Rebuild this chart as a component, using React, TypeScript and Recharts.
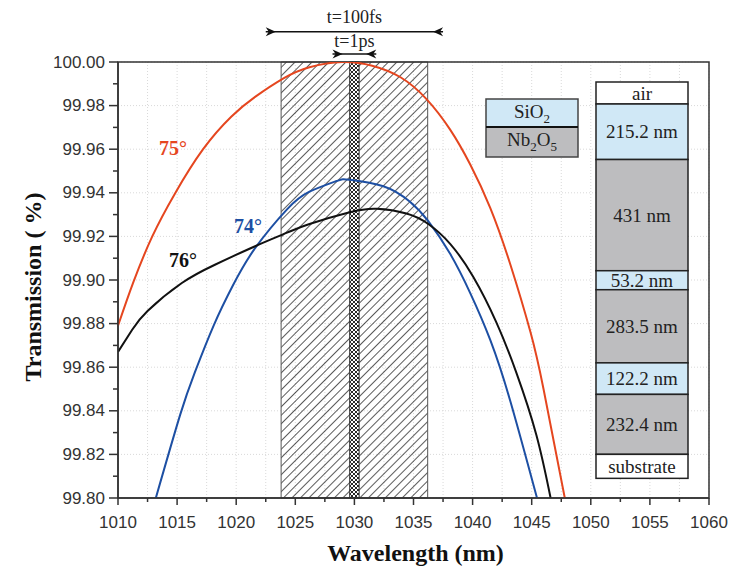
import React from 'react';
import {
  LineChart,
  Line,
  XAxis,
  YAxis,
  CartesianGrid,
  ReferenceArea,
  ReferenceLine,
  ReferenceDot,
} from 'recharts';

document.body.style.margin = '0';

// wavelength (nm) / transmission (%)
const wl75 = [1010, 1011.3, 1012.9, 1014.8, 1017.2, 1019.6, 1021.6, 1024.0, 1026.2, 1029.0, 1031.5, 1033.9, 1036.1, 1038.1, 1039.8, 1041.5, 1043.2, 1044.9, 1046.0, 1047.8];
const tr75 = [99.879, 99.899, 99.92, 99.9395, 99.96, 99.975, 99.984, 99.9925, 99.9976, 100.0, 99.9983, 99.993, 99.983, 99.969, 99.953, 99.933, 99.907, 99.876, 99.85, 99.8];

const wl74 = [1013.2, 1015.25, 1016.5, 1018.1, 1019.75, 1021.6, 1024.3, 1026.2, 1028.5, 1029.6, 1032.45, 1034.7, 1036.25, 1038.1, 1039.8, 1041.5, 1043.2, 1045.45];
const tr74 = [99.8, 99.838, 99.8576, 99.8792, 99.8978, 99.9146, 99.9324, 99.9405, 99.9454, 99.946, 99.943, 99.9359, 99.927, 99.912, 99.894, 99.8724, 99.8443, 99.8];

const wl76 = [1010, 1011.2, 1012.5, 1015.4, 1018.2, 1021.6, 1024.3, 1026.2, 1029.6, 1031.9, 1034.4, 1036.25, 1038.1, 1040.05, 1042.0, 1043.7, 1045.4, 1046.6];
const tr76 = [99.867, 99.8772, 99.8858, 99.8986, 99.907, 99.9155, 99.9217, 99.9257, 99.9311, 99.9327, 99.9305, 99.9257, 99.9166, 99.9015, 99.8807, 99.8575, 99.8288, 99.8];

const xTicks = [1010, 1012.5, 1015, 1017.5, 1020, 1022.5, 1025, 1027.5, 1030, 1032.5, 1035, 1037.5, 1040, 1042.5, 1045, 1047.5, 1050, 1052.5, 1055, 1057.5, 1060];
const yTicks = [99.8, 99.81, 99.82, 99.83, 99.84, 99.85, 99.86, 99.87, 99.88, 99.89, 99.9, 99.91, 99.92, 99.93, 99.94, 99.95, 99.96, 99.97, 99.98, 99.99, 100];
const yMajor = [99.8, 99.82, 99.84, 99.86, 99.88, 99.9, 99.92, 99.94, 99.96, 99.98, 100];

// pulse bandwidth windows and their arrows
const band100fs = [1023.8, 1036.2];
const band1ps = [1029.6, 1030.4];
const arrow100fs = [1022.5, 1037.5];
const arrow1ps = [1028.15, 1031.85];
const arrowLevels = [100.0139, 100.0037];

// curve labels: [text, wavelength, transmission, colour]
const curveLabels: [string, number, number, string][] = [
  ['75°', 1014.65, 99.9606, '#e5461f'],
  ['74°', 1021.0, 99.9247, '#1d4fa3'],
  ['76°', 1015.5, 99.909, '#111'],
];

// coating stack, top to bottom
const layers = [
  { label: '215.2 nm', material: 'SiO2', thickness: 215.2 },
  { label: '431 nm', material: 'Nb2O5', thickness: 431 },
  { label: '53.2 nm', material: 'SiO2', thickness: 53.2 },
  { label: '283.5 nm', material: 'Nb2O5', thickness: 283.5 },
  { label: '122.2 nm', material: 'SiO2', thickness: 122.2 },
  { label: '232.4 nm', material: 'Nb2O5', thickness: 232.4 },
];

const toPoints = (xs: number[], ys: number[]) => xs.map((x, i) => ({ x, y: ys[i] }));
const data75 = toPoints(wl75, tr75);
const data74 = toPoints(wl74, tr74);
const data76 = toPoints(wl76, tr76);

const SERIF = '"Liberation Serif", "Times New Roman", serif';
const SANS = '"Liberation Sans", Arial, sans-serif';
const BLUE_FILL = '#d0e8f6';
const GRAY_FILL = '#bdbdbf';

const Y_SIZE = 9;
const Y_MARGIN = 4;
const X_SIZE = 7;
const X_MARGIN = 4;

const YTick = (props: any) => {
  const { x, y, payload } = props;
  const axisX = x + Y_SIZE + Y_MARGIN;
  const major = Math.round(payload.value * 100) % 2 === 0;
  return (
    <g>
      <line x1={axisX - (major ? 9 : 5)} x2={axisX} y1={y} y2={y} stroke="#333" strokeWidth={1.5} />
      {major && (
        <text x={axisX - 13} y={y} textAnchor="end" dominantBaseline="central" fontFamily={SANS} fontSize={17} fill="#333">
          {payload.value.toFixed(2)}
        </text>
      )}
    </g>
  );
};

const XTick = (props: any) => {
  const { x, y, payload } = props;
  const axisY = y - X_SIZE - X_MARGIN;
  const major = payload.value % 5 === 0;
  return (
    <g>
      <line x1={x} x2={x} y1={axisY} y2={axisY + (major ? 7 : 4)} stroke="#333" strokeWidth={1.5} />
      {major && (
        <text x={x} y={axisY + 24} textAnchor="middle" dominantBaseline="central" fontFamily={SANS} fontSize={17} fill="#333">
          {payload.value}
        </text>
      )}
    </g>
  );
};

const arrowShape = (label: string, lift: number) => (p: any) => {
  const { x1, x2, y1 } = p;
  const y = y1;
  return (
    <g>
      <line x1={x1} x2={x2} y1={y} y2={y} stroke="#111" strokeWidth={1.6} />
      <path d={`M${x1},${y - 4.5} L${x1 + 10},${y} L${x1},${y + 4.5} L${x1 + 3},${y} Z`} fill="#111" />
      <path d={`M${x2},${y - 4.5} L${x2 - 10},${y} L${x2},${y + 4.5} L${x2 - 3},${y} Z`} fill="#111" />
      <text x={(x1 + x2) / 2} y={y - lift} textAnchor="middle" fontFamily={SERIF} fontSize={18} fill="#222">
        {label}
      </text>
    </g>
  );
};

const Formula = ({ name }: { name: string }) => {
  // digits become subscripts
  const parts = name.split(/(\d)/).filter(Boolean);
  return (
    <>
      {parts.map((s, i) =>
        /\d/.test(s) ? (
          <tspan key={i} dy={5} fontSize={13}>{s}</tspan>
        ) : (
          <tspan key={i} dy={i > 0 ? -5 : 0}>{s}</tspan>
        )
      )}
    </>
  );
};

const Insets = () => {
  const sx = 596;
  const sw = 92;
  let y = 82;
  const rows: { label: string; fill: string; h: number; y: number }[] = [];
  rows.push({ label: 'air', fill: '#fff', h: 22, y });
  y += 22;
  layers.forEach((l) => {
    const h = Math.max(19, l.thickness * 0.258);
    rows.push({ label: l.label, fill: l.material === 'SiO2' ? BLUE_FILL : GRAY_FILL, h, y });
    y += h;
  });
  rows.push({ label: 'substrate', fill: '#fff', h: 24, y });
  return (
    <svg width={729} height={571} style={{ position: 'absolute', left: 0, top: 0, pointerEvents: 'none' }}>
      <defs>
        <pattern id="hatch" width={6} height={6} patternUnits="userSpaceOnUse" patternTransform="rotate(45)">
          <line x1={0} y1={0} x2={0} y2={6} stroke="#000" strokeWidth={1.3} />
        </pattern>
        <pattern id="cross" width={4} height={4} patternUnits="userSpaceOnUse">
          <rect width={4} height={4} fill="#fff" />
          <path d="M0,4 L4,0 M0,0 L4,4" stroke="#111" strokeWidth={0.9} />
        </pattern>
      </defs>
      {/* legend box */}
      <rect x={486} y={99} width={92} height={28} fill={BLUE_FILL} />
      <rect x={486} y={127} width={92} height={30} fill={GRAY_FILL} />
      <rect x={486} y={99} width={92} height={58} fill="none" stroke="#444" strokeWidth={1.5} />
      <line x1={486} x2={578} y1={127} y2={127} stroke="#111" strokeWidth={2} />
      <text x={532} y={118} textAnchor="middle" fontFamily={SERIF} fontSize={19} fill="#222">
        <Formula name="SiO2" />
      </text>
      <text x={532} y={146} textAnchor="middle" fontFamily={SERIF} fontSize={19} fill="#222">
        <Formula name="Nb2O5" />
      </text>
      {/* layer stack */}
      {rows.map((r, i) => (
        <g key={i}>
          <rect x={sx} y={r.y} width={sw} height={r.h} fill={r.fill} stroke="#222" strokeWidth={1.5} />
          <text x={sx + sw / 2} y={r.y + r.h / 2} textAnchor="middle" dominantBaseline="central" fontFamily={SERIF} fontSize={19} fill="#222">
            {r.label}
          </text>
        </g>
      ))}
    </svg>
  );
};

export default function App() {
  return (
    <div style={{ position: 'relative', width: 729, height: 571, background: '#fff' }}>
      <LineChart width={729} height={571} margin={{ top: 62, right: 20, bottom: 0, left: 0 }}>
        <CartesianGrid stroke="#d9d9d9" strokeDasharray="1 2" horizontalValues={yMajor} />
        <XAxis
          type="number"
          dataKey="x"
          domain={[1010, 1060]}
          ticks={xTicks}
          interval={0}
          allowDataOverflow
          height={73}
          tickSize={X_SIZE}
          tickMargin={X_MARGIN}
          tickLine={false}
          tick={<XTick />}
          axisLine={{ stroke: '#333', strokeWidth: 1.5 }}
          label={(p: any) => (
            <text
              x={p.viewBox.x + p.viewBox.width / 2 + 2}
              y={p.viewBox.y + 63}
              textAnchor="middle"
              fontFamily={SERIF}
              fontWeight="bold"
              fontSize={24}
              fill="#111"
            >
              Wavelength (nm)
            </text>
          )}
        />
        <YAxis
          type="number"
          dataKey="y"
          domain={[99.8, 100]}
          ticks={yTicks}
          interval={0}
          allowDataOverflow
          width={118}
          tickSize={Y_SIZE}
          tickMargin={Y_MARGIN}
          tickLine={false}
          tick={<YTick />}
          axisLine={{ stroke: '#333', strokeWidth: 1.5 }}
          label={(p: any) => {
            const cy = p.viewBox.y + p.viewBox.height / 2 + 7;
            return (
              <text
                transform={`translate(33,${cy}) rotate(-90)`}
                textAnchor="middle"
                dominantBaseline="central"
                fontFamily={SERIF}
                fontWeight="bold"
                fontSize={24}
                fill="#111"
              >
                Transmission ( %)
              </text>
            );
          }}
        />
        <ReferenceArea x1={band100fs[0]} x2={band100fs[1]} y1={99.8} y2={100} fill="url(#hatch)" fillOpacity={1} stroke="#555" strokeWidth={1} />
        <ReferenceArea x1={band1ps[0]} x2={band1ps[1]} y1={99.8} y2={100} fill="url(#cross)" fillOpacity={1} stroke="#333" strokeWidth={1} />
        <ReferenceArea x1={1010} x2={1060} y1={99.8} y2={100} fill="none" stroke="#333" strokeWidth={1.5} />
        <ReferenceLine
          segment={[{ x: arrow100fs[0], y: arrowLevels[0] }, { x: arrow100fs[1], y: arrowLevels[0] }]}
          ifOverflow="visible"
          shape={arrowShape('t=100fs', 9)}
        />
        <ReferenceLine
          segment={[{ x: arrow1ps[0], y: arrowLevels[1] }, { x: arrow1ps[1], y: arrowLevels[1] }]}
          ifOverflow="visible"
          shape={arrowShape('t=1ps', 7)}
        />
        <Line data={data75} dataKey="y" type="natural" stroke="#e5461f" strokeWidth={2} dot={false} isAnimationActive={false} />
        <Line data={data74} dataKey="y" type="natural" stroke="#1d4fa3" strokeWidth={2} dot={false} isAnimationActive={false} />
        <Line data={data76} dataKey="y" type="natural" stroke="#111" strokeWidth={2} dot={false} isAnimationActive={false} />
        {curveLabels.map(([t, x, y, c]) => (
          <ReferenceDot
            key={t}
            x={x}
            y={y}
            ifOverflow="visible"
            shape={(p: any) => (
              <text x={p.cx} y={p.cy} textAnchor="middle" dominantBaseline="central" fontFamily={SERIF} fontWeight="bold" fontSize={20} fill={c}>
                {t}
              </text>
            )}
          />
        ))}
      </LineChart>
      <Insets />
    </div>
  );
}
